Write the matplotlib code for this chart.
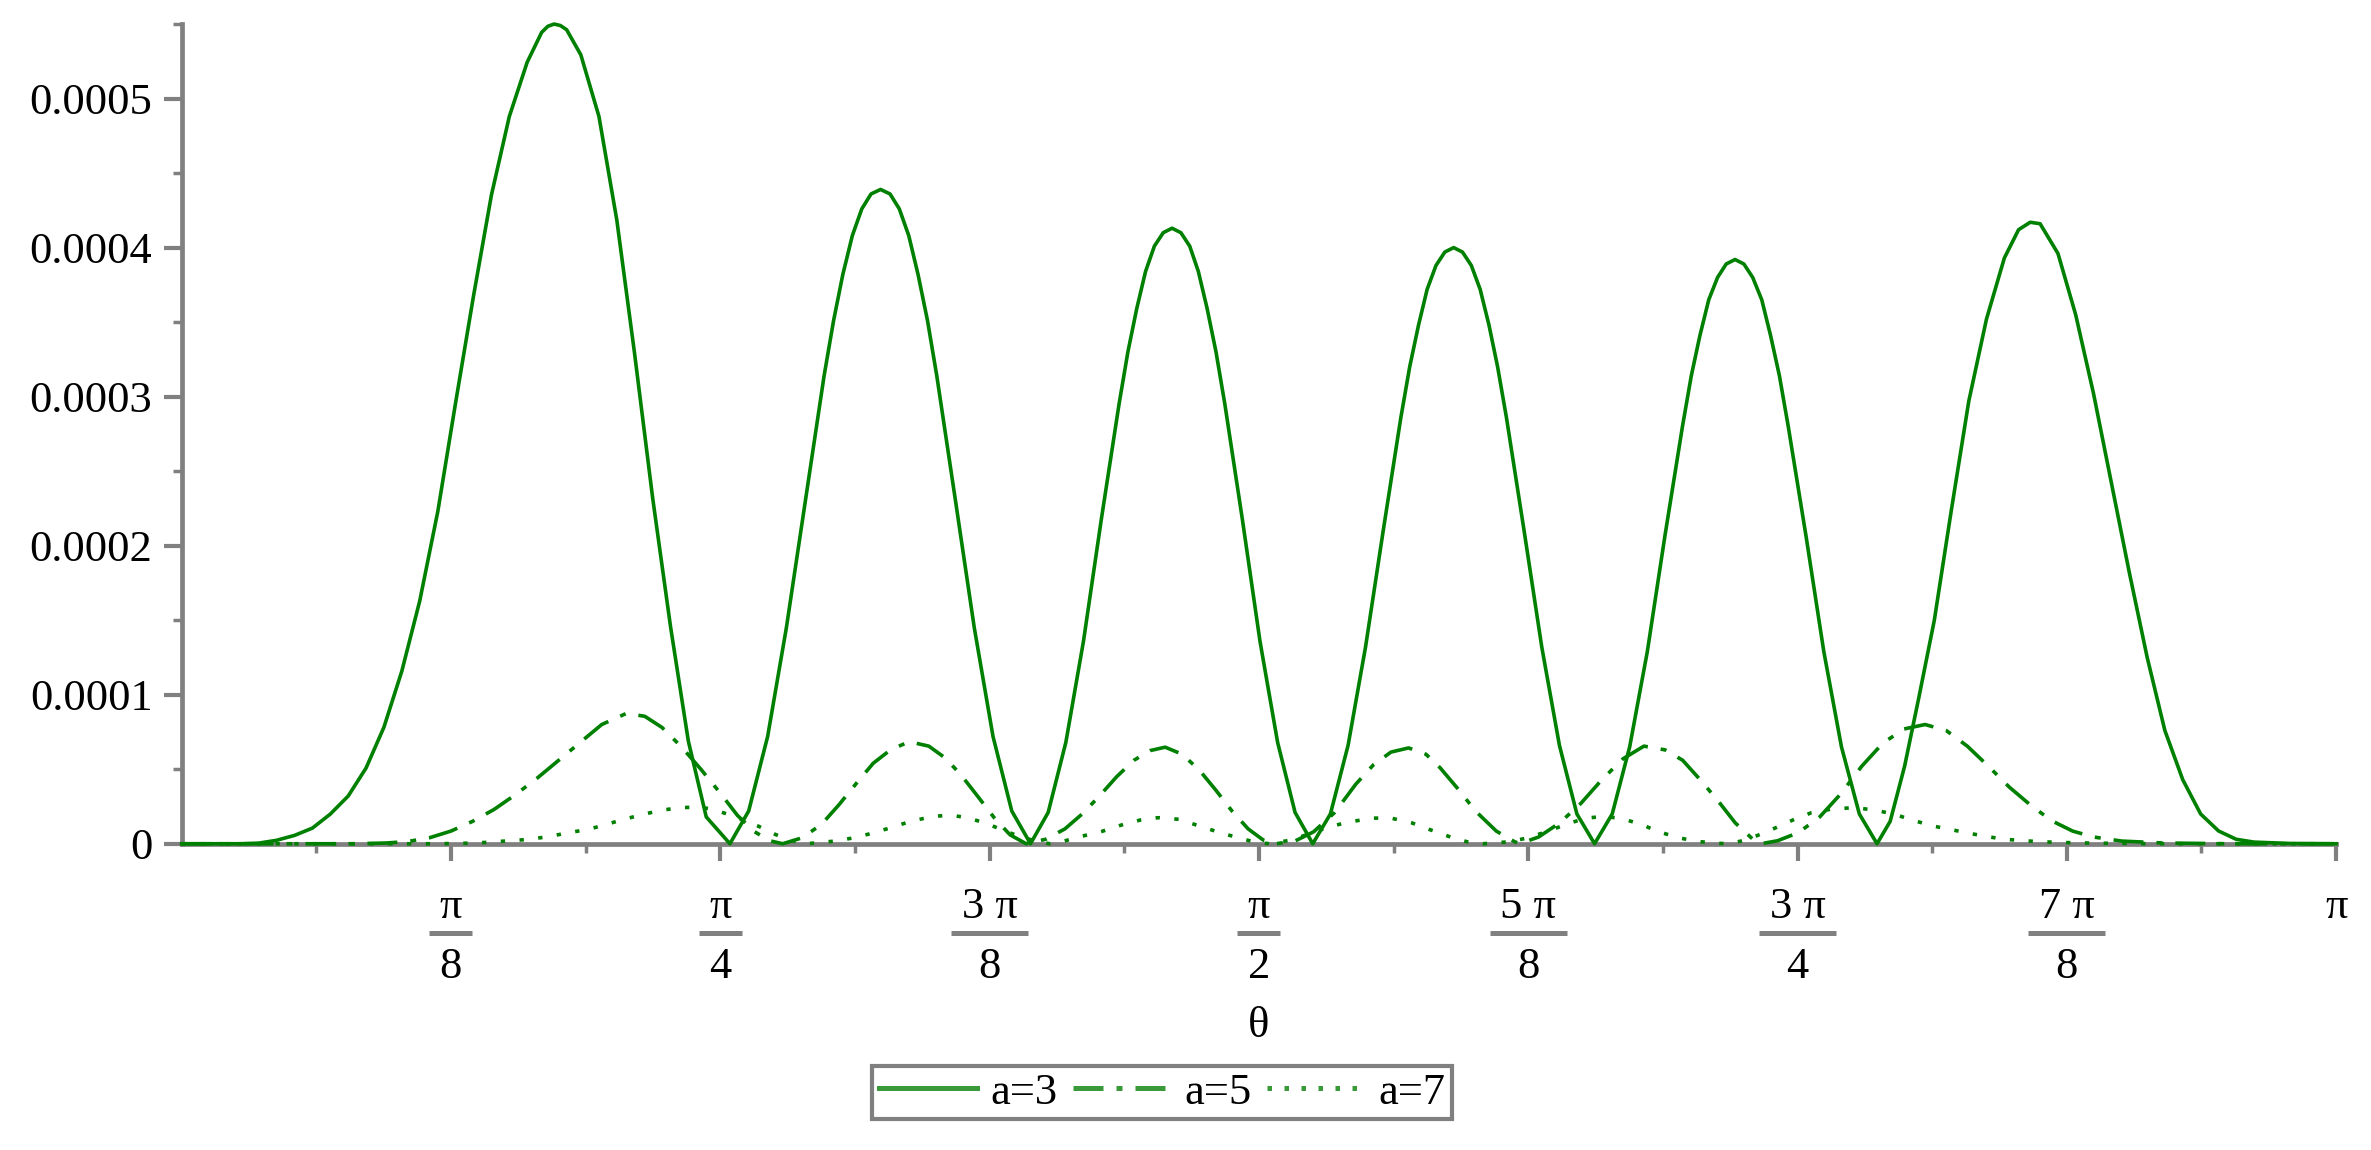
import numpy as np
import matplotlib.pyplot as plt
import matplotlib.transforms as mtransforms

# theta values are in units of pi, probabilities in units of 1e-4
theta_a3 = [0.0, 0.0274, 0.0357, 0.0440, 0.0524, 0.0607, 0.0690, 0.0773, 0.0856, 0.0939,
            0.1022, 0.1105, 0.1189, 0.1272, 0.1355, 0.1438, 0.1521, 0.1604, 0.1671, 0.1700,
            0.1729, 0.1758, 0.1787, 0.1853, 0.1937, 0.2020, 0.2103, 0.2186, 0.2269, 0.2352,
            0.2435, 0.2545,
            0.2632, 0.2720, 0.2807, 0.2895, 0.2982, 0.3026, 0.3069, 0.3113, 0.3157, 0.3200,
            0.3244, 0.3288, 0.3331, 0.3375, 0.3418, 0.3462, 0.3505, 0.3592, 0.3679, 0.3766,
            0.3853, 0.3940,
            0.4022, 0.4104, 0.4186, 0.4268, 0.4351, 0.4392, 0.4433, 0.4474, 0.4515, 0.4556,
            0.4597, 0.4638, 0.4679, 0.4719, 0.4760, 0.4801, 0.4842, 0.4924, 0.5005, 0.5087,
            0.5168, 0.5250,
            0.5332, 0.5414, 0.5495, 0.5577, 0.5659, 0.5700, 0.5741, 0.5781, 0.5822, 0.5863,
            0.5904, 0.5945, 0.5986, 0.6027, 0.6068, 0.6108, 0.6149, 0.6231, 0.6313, 0.6395,
            0.6476, 0.6558,
            0.6640, 0.6721, 0.6803, 0.6884, 0.6966, 0.7007, 0.7047, 0.7088, 0.7129, 0.7169,
            0.7210, 0.7251, 0.7292, 0.7334, 0.7375, 0.7416, 0.7457, 0.7540, 0.7622, 0.7704,
            0.7787, 0.7869,
            0.7930, 0.7997, 0.8063, 0.8135, 0.8212, 0.8295, 0.8377, 0.8460, 0.8526, 0.8580,
            0.8626, 0.8709, 0.8791, 0.8874, 0.8957, 0.9040, 0.9123, 0.9205, 0.9288, 0.9371,
            0.9454, 0.9536, 0.9619, 0.9785, 1.0]
p_a3 = [0, 0, 0.004, 0.023, 0.056, 0.105, 0.199, 0.320, 0.508, 0.782,
        1.158, 1.628, 2.229, 2.962, 3.677, 4.353, 4.880, 5.244, 5.444, 5.485,
        5.500, 5.490, 5.462, 5.293, 4.880, 4.184, 3.282, 2.323, 1.459, 0.688,
        0.180, 0,
        0.22, 0.72, 1.45, 2.30, 3.14, 3.51, 3.82, 4.08, 4.26, 4.36,
        4.39, 4.36, 4.26, 4.08, 3.82, 3.51, 3.14, 2.30, 1.45, 0.72,
        0.22, 0,
        0.21, 0.68, 1.36, 2.17, 2.95, 3.30, 3.59, 3.84, 4.01, 4.10,
        4.13, 4.10, 4.01, 3.84, 3.59, 3.30, 2.95, 2.17, 1.36, 0.68,
        0.21, 0,
        0.20, 0.66, 1.32, 2.10, 2.86, 3.20, 3.48, 3.72, 3.88, 3.97,
        4.00, 3.97, 3.88, 3.72, 3.48, 3.20, 2.86, 2.10, 1.32, 0.66,
        0.20, 0,
        0.20, 0.65, 1.29, 2.06, 2.80, 3.14, 3.41, 3.65, 3.80, 3.89,
        3.92, 3.89, 3.80, 3.65, 3.41, 3.14, 2.80, 2.06, 1.29, 0.65,
        0.20, 0,
        0.15, 0.52, 0.98, 1.50, 2.22, 2.97, 3.52, 3.93, 4.12, 4.17,
        4.16, 3.96, 3.55, 3.02, 2.42, 1.82, 1.25, 0.76, 0.43, 0.20,
        0.086, 0.030, 0.011, 0.002, 0]

theta_a5 = [0.0, 0.08, 0.095, 0.105, 0.115, 0.125, 0.135, 0.145, 0.155, 0.165,
            0.175, 0.185, 0.195, 0.2065, 0.215, 0.223, 0.232, 0.241, 0.25, 0.258,
            0.266, 0.273, 0.279,
            0.288, 0.297, 0.305, 0.314, 0.321, 0.329, 0.3377, 0.3468, 0.354, 0.3613,
            0.3694, 0.3774, 0.3845, 0.392,
            0.401, 0.41, 0.418, 0.426, 0.434, 0.442, 0.4495, 0.4565, 0.4645, 0.4726,
            0.48, 0.4875, 0.495, 0.502, 0.508,
            0.517, 0.5254, 0.5352, 0.545, 0.5532, 0.5613, 0.5695, 0.5776, 0.5841, 0.5923,
            0.6005, 0.6102, 0.6184, 0.621,
            0.6298, 0.6396, 0.6494, 0.6592, 0.669, 0.6787, 0.6885, 0.6967, 0.7048, 0.713,
            0.7211, 0.7293, 0.733,
            0.7407, 0.7505, 0.7603, 0.7701, 0.7798, 0.7896, 0.7994, 0.8092, 0.819, 0.8288,
            0.8386, 0.8483, 0.8581, 0.8679, 0.8777, 0.8875, 0.9005, 0.92, 0.95, 1.0]
p_a5 = [0, 0, 0.005, 0.015, 0.04, 0.085, 0.15, 0.23, 0.33, 0.44,
        0.56, 0.68, 0.80, 0.875, 0.855, 0.78, 0.65, 0.50, 0.34, 0.19,
        0.08, 0.02, 0,
        0.04, 0.13, 0.26, 0.42, 0.54, 0.63, 0.685, 0.655, 0.58, 0.47,
        0.32, 0.17, 0.06, 0,
        0.03, 0.1, 0.2, 0.32, 0.45, 0.56, 0.625, 0.648, 0.6, 0.49,
        0.36, 0.22, 0.1, 0.025, 0,
        0.02, 0.08, 0.21, 0.40, 0.53, 0.615, 0.643, 0.6, 0.51, 0.37,
        0.22, 0.085, 0.016, 0,
        0.045, 0.14, 0.27, 0.43, 0.57, 0.655, 0.63, 0.56, 0.43, 0.29,
        0.14, 0.03, 0,
        0.02, 0.075, 0.18, 0.335, 0.52, 0.675, 0.77, 0.80, 0.76, 0.655,
        0.52, 0.38, 0.26, 0.155, 0.085, 0.045, 0.018, 0.005, 0, 0]

theta_a7 = [0.0, 0.12, 0.137, 0.15, 0.16, 0.169, 0.179, 0.189, 0.1953, 0.205,
            0.2136, 0.2226, 0.232, 0.2403, 0.2452, 0.25, 0.258, 0.2677, 0.2758, 0.2839, 0.29,
            0.3032, 0.3129, 0.321, 0.329, 0.3387, 0.3484, 0.3565, 0.3645, 0.3726, 0.3806,
            0.3887, 0.3968, 0.403,
            0.408, 0.4177, 0.4274, 0.4371, 0.4452, 0.4532, 0.4629, 0.4726, 0.4823, 0.492,
            0.4985, 0.505,
            0.515, 0.525, 0.5336, 0.5434, 0.5532, 0.5613, 0.571, 0.5793, 0.589, 0.597, 0.604,
            0.615, 0.6235, 0.6335, 0.6425, 0.6517, 0.66, 0.6683, 0.6774, 0.6857, 0.6948,
            0.7039, 0.713, 0.718,
            0.7266, 0.738, 0.7484, 0.7564, 0.7656, 0.7759, 0.7851, 0.795, 0.803, 0.8126,
            0.8212, 0.8298, 0.8377, 0.846, 0.8598, 0.871, 0.8875, 0.91, 0.93, 1.0]
p_a7 = [0, 0, 0.005, 0.018, 0.028, 0.045, 0.072, 0.098, 0.122, 0.163,
        0.195, 0.225, 0.243, 0.245, 0.235, 0.215, 0.175, 0.118, 0.061, 0.018, 0,
        0.018, 0.042, 0.073, 0.107, 0.152, 0.182, 0.193, 0.175, 0.141, 0.095,
        0.05, 0.016, 0,
        0.012, 0.05, 0.084, 0.13, 0.16, 0.175, 0.164, 0.118, 0.073, 0.034,
        0.01, 0,
        0.025, 0.075, 0.118, 0.15, 0.172, 0.172, 0.14, 0.095, 0.045, 0.012, 0,
        0.012, 0.035, 0.08, 0.13, 0.172, 0.183, 0.17, 0.13, 0.08, 0.04,
        0.015, 0.003, 0,
        0.027, 0.095, 0.163, 0.208, 0.232, 0.242, 0.228, 0.198, 0.16, 0.12,
        0.095, 0.07, 0.049, 0.03, 0.016, 0.009, 0.004, 0.001, 0, 0]

series_labels = ["a=3", "a=5", "a=7"]

x_tick_pos = [1/8, 2/8, 3/8, 4/8, 5/8, 6/8, 7/8, 1.0]
x_tick_num = ["π", "π", "3 π", "π", "5 π", "3 π", "7 π", "π"]
x_tick_den = ["8", "4", "8", "2", "8", "4", "8", ""]

y_ticks = [0, 0.0001, 0.0002, 0.0003, 0.0004, 0.0005]
y_tick_labels = ["0", "0.0001", "0.0002", "0.0003", "0.0004", "0.0005"]

green = "#008000"
legend_green = "#3a9a3a"
grey = "#808080"
fs = 32

plt.rcParams["font.family"] = ["Liberation Serif", "DejaVu Serif"]

fig = plt.figure(figsize=(23.71, 11.5), dpi=100)
ax = fig.add_axes([0.0766, 0.2663, 0.9087, 0.7128])

lw = 2.6
dashdot = (0, (8.3, 3.6, 1.65, 3.6))
dotted = (0, (1.2, 4.0))
ax.plot(np.array(theta_a3) * np.pi, np.array(p_a3) * 1e-4, color=green, lw=lw,
        label=series_labels[0], clip_on=False, zorder=3, solid_joinstyle="round")
ax.plot(np.array(theta_a5) * np.pi, np.array(p_a5) * 1e-4, color=green, lw=lw,
        linestyle=dashdot, label=series_labels[1], clip_on=False, zorder=3)
ax.plot(np.array(theta_a7) * np.pi, np.array(p_a7) * 1e-4, color=green, lw=lw,
        linestyle=dotted, label=series_labels[2], clip_on=False, zorder=3)

ax.set_xlim(0, np.pi)
ax.set_ylim(0, 0.00055)

for s in ["top", "right"]:
    ax.spines[s].set_visible(False)
for s in ["left", "bottom"]:
    ax.spines[s].set_color(grey)
    ax.spines[s].set_linewidth(3.4)

# x ticks: majors every pi/8, minors in between
ax.set_xticks([p * np.pi for p in x_tick_pos])
ax.set_xticks([(2 * k + 1) * np.pi / 16 for k in range(8)], minor=True)
ax.tick_params(axis="x", which="major", length=12, width=3, color=grey, labelbottom=False)
ax.tick_params(axis="x", which="minor", length=6.5, width=2.5, color=grey)

ax.set_yticks(y_ticks)
ax.set_yticklabels(y_tick_labels)
ax.set_yticks([0.00005, 0.00015, 0.00025, 0.00035, 0.00045, 0.00055], minor=True)
ax.tick_params(axis="y", which="major", length=13, width=3, color=grey, labelsize=fs, pad=8)
ax.tick_params(axis="y", which="minor", length=6.5, width=2.5, color=grey)

# fraction labels under the x axis
trans = mtransforms.blended_transform_factory(ax.transData, ax.transAxes)
for pos, num, den in zip(x_tick_pos, x_tick_num, x_tick_den):
    x = pos * np.pi
    ax.text(x, -0.0906, num, transform=trans, ha="center", va="baseline", fontsize=fs)
    if den:
        hw = 0.0313 if len(num) == 1 else 0.0561
        ax.plot([x - hw, x + hw], [-0.1083, -0.1083], transform=trans, color=grey,
                lw=3.6, solid_capstyle="butt", clip_on=False)
        ax.text(x, -0.1638, den, transform=trans, ha="center", va="baseline", fontsize=fs)

ax.text(np.pi / 2, -0.2358, "θ", transform=trans, ha="center", va="baseline", fontsize=fs)

leg = ax.legend(loc="center", bbox_to_anchor=(0.4901, 0.05), bbox_transform=fig.transFigure,
                ncol=3, fancybox=False, edgecolor=grey, framealpha=1, fontsize=fs,
                handlelength=2.2, handletextpad=0.3, columnspacing=0.35, borderpad=0.15)
leg.get_frame().set_linewidth(3)
legend_styles = ["-", (0, (6, 2.6, 1.2, 2.6)), (0, (0.9, 2.5))]
for line, style in zip(leg.get_lines(), legend_styles):
    line.set_color(legend_green)
    line.set_linewidth(3.6)
    line.set_linestyle(style)

fig.savefig("out.png", dpi=100)
